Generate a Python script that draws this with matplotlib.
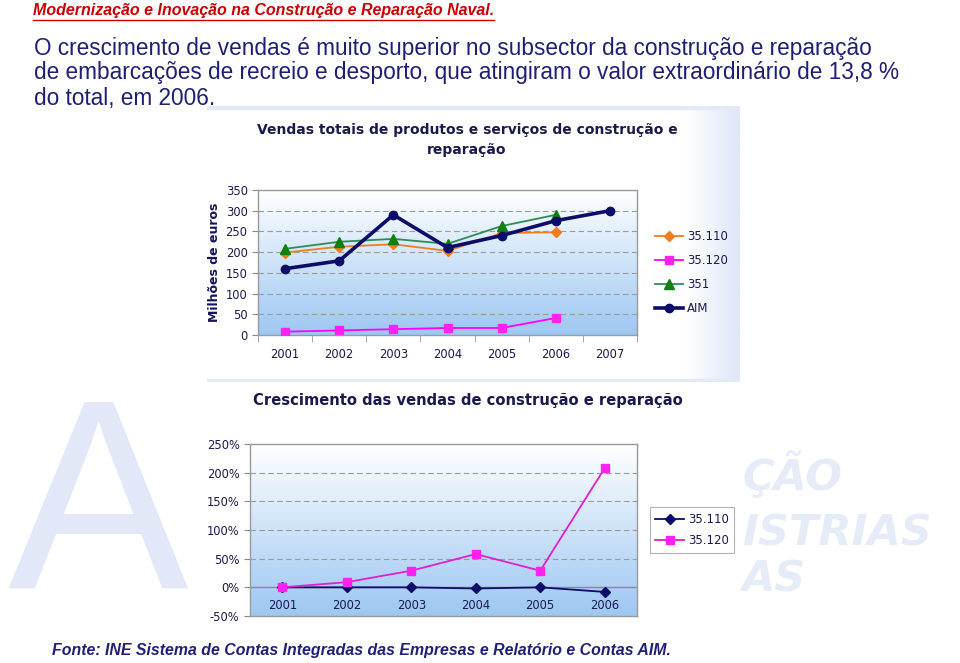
import numpy as np
import matplotlib
matplotlib.use("Agg")
import matplotlib.pyplot as plt
from matplotlib.colors import LinearSegmentedColormap
from matplotlib.lines import Line2D


# DATA
years_top = ["2001", "2002", "2003", "2004", "2005", "2006", "2007"]
sales_35110 = [199, 213, 219, 203, 246, 248]
sales_35120 = [8, 11, 14, 17, 17, 41]
sales_351 = [208, 225, 232, 220, 263, 290]
sales_aim = [160, 179, 290, 211, 240, 276, 300]

years_bottom = ["2001", "2002", "2003", "2004", "2005", "2006"]
growth_35110 = [0, 0, 0, -2, 0, -8]
growth_35120 = [0, 9, 29, 58, 29, 208]

NAVY = "#14145f"
TXT = "#1a1a4e"
W, H = 960, 663


def fx(px):
    return px / W


def fy(py):
    return 1 - py / H


def gradient_bg(ax, xlim, ylim, bottom_color="#9dc7f3"):
    cmap = LinearSegmentedColormap.from_list("bg", ["#ffffff", bottom_color])
    grad = np.linspace(0, 1, 256).reshape(-1, 1)
    ax.imshow(grad, cmap=cmap, extent=(xlim[0], xlim[1], ylim[0], ylim[1]),
              aspect="auto", origin="upper", zorder=0)


def style_axes(ax):
    for s in ax.spines.values():
        s.set_color("#9a9a9a")
        s.set_linewidth(1.0)
    ax.tick_params(axis="both", colors="#8a8a8a", labelcolor=TXT, labelsize=8.3,
                   length=4, width=0.8)


fig = plt.figure(figsize=(9.6, 6.63), dpi=100)
fig.patch.set_facecolor("white")

# BACKGROUND DECORATION
fig.text(fx(7), fy(589), "A", fontsize=195, color="#e2e8f8", family="Liberation Sans",
         ha="left", va="baseline", zorder=-5)
for txt, ypx in [("ÇÃO", 490), ("ISTRIAS", 545), ("AS", 592)]:
    fig.text(fx(742), fy(ypx), txt, fontsize=31, color="#e6ebf8", family="DejaVu Sans",
             fontweight="bold", style="italic", ha="left", va="baseline", zorder=-5)

# top panel background
bg = fig.add_axes([fx(207), fy(382), fx(740 - 207), (382 - 106) / H], zorder=-2)
hgrad = np.linspace(0, 1, 256).reshape(1, -1)
bg.imshow(np.clip((hgrad - 0.9) / 0.1, 0, 1), cmap=LinearSegmentedColormap.from_list(
    "h", ["#ffffff", "#dfe6f7"]), aspect="auto", extent=(0, 1, 0, 1))
bg.axhspan(0.99, 1.0, color="#e3e9f8")
bg.axhspan(0.0, 0.01, color="#e3e9f8")
bg.set_xlim(0, 1)
bg.set_ylim(0, 1)
bg.axis("off")

# HEADER TEXT
narrow = ["Liberation Sans Narrow", "Liberation Sans", "DejaVu Sans"]
fig.text(fx(33), fy(11), "Modernização e Inovação na Construção e Reparação Naval.",
         fontsize=11.5, color="#cc0000", fontweight="bold", style="italic",
         family=narrow, ha="left", va="center")
fig.add_artist(Line2D([fx(33), fx(494)], [fy(19.5), fy(19.5)], color="#cc0000", lw=1.0))

body = ["O crescimento de vendas é muito superior no subsector da construção e reparação",
        "de embarcações de recreio e desporto, que atingiram o valor extraordinário de 13,8 %",
        "do total, em 2006."]
for i, line in enumerate(body):
    fig.text(fx(34), fy(48 + 25 * i), line, fontsize=16.3, color="#1f1f78",
             family=narrow, ha="left", va="center")

# TOP CHART
ax1 = fig.add_axes([fx(258), fy(335), fx(637 - 258), (335 - 190) / H])
xt = np.arange(len(years_top))
gradient_bg(ax1, (-0.5, 6.5), (0, 350))
for v in range(50, 350, 50):
    ax1.axhline(v, color="#9a9a9a", lw=0.8, ls=(0, (5, 3)), zorder=1)

ax1.plot(xt[:len(sales_35110)], sales_35110, color="#f07d1e", lw=1.3, marker="D",
         ms=5, mfc="#f07d1e", mec="#f07d1e", label="35.110", zorder=3)
ax1.plot(xt[:len(sales_35120)], sales_35120, color="#ff00ff", lw=1.3, marker="s",
         ms=6, mfc="#ff22ee", mec="#ff22ee", label="35.120", zorder=3)
ax1.plot(xt[:len(sales_351)], sales_351, color="#2e8b57", lw=1.3, marker="^",
         ms=7, mfc="#108010", mec="#108010", label="351", zorder=3)
ax1.plot(xt, sales_aim, color="#0c0c6a", lw=2.6, marker="o", ms=6,
         mfc="#0c0c6a", mec="#0c0c6a", label="AIM", zorder=4)

ax1.set_xlim(-0.5, 6.5)
ax1.set_ylim(0, 350)
ax1.set_yticks(range(0, 351, 50))
ax1.set_xticks(xt)
ax1.set_xticklabels(years_top)
ax1.set_xticks(np.arange(-0.5, 7, 1), minor=True)
style_axes(ax1)
ax1.tick_params(axis="x", which="major", length=0, pad=9)
ax1.tick_params(axis="x", which="minor", length=5, color="#9a9a9a")
ax1.set_ylabel("Milhões de euros", fontsize=9, fontweight="bold", color=NAVY, labelpad=3)

fig.text(fx(467), fy(140), "Vendas totais de produtos e serviços de construção e\nreparação",
         fontsize=10, fontweight="bold", color=TXT, ha="center", va="center",
         linespacing=1.55)

leg1 = ax1.legend(loc="center left", bbox_to_anchor=(1.047, 0.43), frameon=False,
                  fontsize=8.5, handlelength=2.4, labelspacing=0.92, handletextpad=0.35,
                  labelcolor=TXT, borderaxespad=0, borderpad=0)

# BOTTOM CHART
ax2 = fig.add_axes([fx(250), fy(616), fx(637 - 250), (616 - 444) / H])
xb = np.arange(len(years_bottom))
gradient_bg(ax2, (-0.5, 5.5), (-50, 250))
for v in range(50, 250, 50):
    ax2.axhline(v, color="#9a9a9a", lw=0.8, ls=(0, (5, 3)), zorder=1)
ax2.axhline(0, color="#8a8a8a", lw=1.0, zorder=2)

ax2.plot(xb, growth_35110, color="#0c0c6a", lw=1.3, marker="D", ms=5,
         mfc="#0c0c6a", mec="#0c0c6a", label="35.110", zorder=3)
ax2.plot(xb, growth_35120, color="#e020d0", lw=1.3, marker="s", ms=6,
         mfc="#ff22ee", mec="#ff22ee", label="35.120", zorder=3)

ax2.set_xlim(-0.5, 5.5)
ax2.set_ylim(-50, 250)
ax2.set_yticks(range(-50, 251, 50))
ax2.set_yticklabels([f"{v}%" for v in range(-50, 251, 50)])
ax2.set_xticks([])
style_axes(ax2)
for i, yr in enumerate(years_bottom):
    ax2.text(i, -32, yr, ha="center", va="center", fontsize=8.3, color=TXT, zorder=5)

fig.text(fx(468), fy(401), "Crescimento das vendas de construção e reparação",
         fontsize=10.6, fontweight="bold", color=TXT, ha="center", va="center")

leg2 = ax2.legend(loc="center left", bbox_to_anchor=(1.034, 0.5), frameon=True,
                  fontsize=8.5, handlelength=2.4, labelspacing=0.72, handletextpad=0.35,
                  labelcolor=TXT, fancybox=False, borderpad=0.45, borderaxespad=0)
leg2.get_frame().set_edgecolor("#a0a0a0")
leg2.get_frame().set_linewidth(0.8)

# FOOTER
fig.text(fx(52), fy(651), "Fonte: INE Sistema de Contas Integradas das Empresas e Relatório e Contas AIM.",
         fontsize=11.4, color="#20207a", fontweight="bold", style="italic",
         family=["Liberation Sans", "DejaVu Sans"], ha="left", va="center")

fig.savefig("out.png", dpi=100)
